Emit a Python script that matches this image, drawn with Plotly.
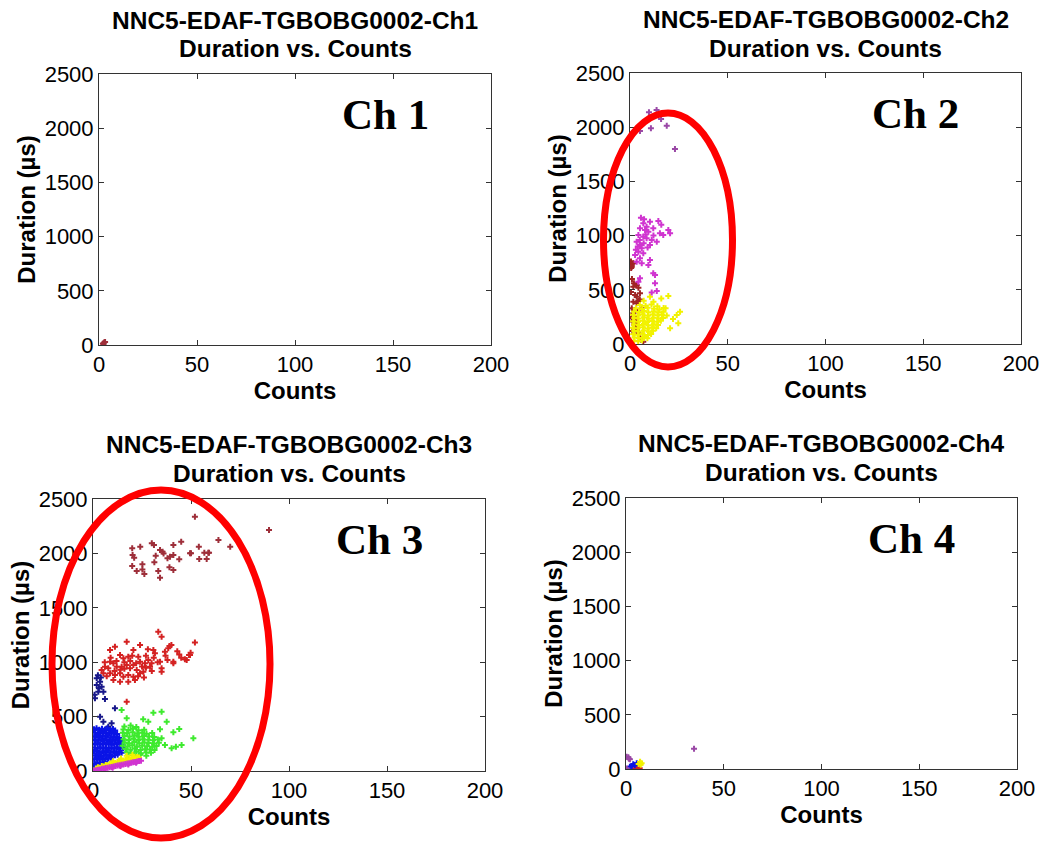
import plotly.graph_objects as go

# ---------------- data ----------------
X_TICKS = [0, 50, 100, 150, 200]
Y_TICKS = [0, 500, 1000, 1500, 2000, 2500]
TITLES = ["NNC5-EDAF-TGBOBG0002-Ch1", "NNC5-EDAF-TGBOBG0002-Ch2",
          "NNC5-EDAF-TGBOBG0002-Ch3", "NNC5-EDAF-TGBOBG0002-Ch4"]
SUBTITLE = "Duration vs. Counts"
CH_LABELS = ["Ch 1", "Ch 2", "Ch 3", "Ch 4"]

# Ch1
CH1_X = [2.0, 2.6, 3.1, 2.3]
CH1_Y = [14, 22, 28, 10]

# Ch2
CH2_MAG_HI_X = [9.7, 13.6, 15.9, 5.1, 10.7, 18.8, 23.0]
CH2_MAG_HI_Y = [2137, 2159, 2076, 1965, 1990, 2014, 1799]
CH2_MAG_X = [5.6, 10.2, 14.5, 6.8, 8.5, 5.1, 7.7, 9.4, 11.9, 19.6, 17.0, 15.3, 20.5,
             4.3, 6.8, 8.5, 11.1, 13.7, 10.2, 3.4, 5.1, 6.0, 4.3, 6.8, 2.6, 5.1,
             3.4, 10.2, 6.0, 9.4, 11.9, 12.8, 12.8, 13.7, 11.1, 5.1, 4.3,
             4.0, 7.0, 8.0, 9.0, 3.0, 5.0, 12.0, 16.0, 7.2]
CH2_MAG_Y = [1165, 1128, 1135, 1113, 1082, 1067, 1052, 1036, 1067, 1052, 1006, 1021, 1021,
             1006, 990, 975, 959, 944, 913, 944, 913, 883, 852, 837, 821, 791,
             759, 775, 744, 729, 652, 636, 560, 489, 474, 606, 575,
             900, 930, 1010, 890, 870, 960, 1000, 1100, 1150]
CH2_MAR_X = [0.5, 0.9, 0.6, 3.4, 4.3, 1.7, 2.6, 3.4, 5.1, 1.7, 3.4, 4.3, 0.9, 2.6,
             1.7, 0.9, 1.7, 2.6, 3.4, 4.3, 5.1, 6.0, 6.8, 1.0, 0.5, 2.0, 1.0,
             3.0, 2.0, 1.2, 4.0, 3.5, 6.0, 5.0, 1.7, 0.9]
CH2_MAR_Y = [760, 730, 700, 544, 520, 529, 452, 436, 468, 390, 375, 397, 329, 314,
             283, 237, 206, 160, 129, 99, 67, 37, 21, 600, 480, 560, 250,
             230, 180, 120, 300, 200, 330, 410, 744, 713]
CH2_YEL_X = [5, 8, 11, 14, 3, 6.2, 9, 12.3, 15, 17.2, 2, 4.6, 7.1, 9.4, 12.2, 14.4, 17.1,
             1.5, 4.1, 6.4, 9.2, 11.6, 14.1, 16.3, 18.8, 2.2, 4.4, 7.2, 9.6, 12.1,
             14.6, 16.9, 1.6, 4.2, 6.6, 8.8, 11.4, 13.9, 15.8, 2.1, 4.6, 7.1, 9.3,
             12.2, 14.3, 1.4, 3.9, 6.6, 9.1, 11.3, 13.4, 2.2, 4.4, 7.1, 9.6, 11.8,
             1.6, 4.1, 6.4, 9.2, 10.8, 2.3, 4.5, 7.2, 8.9, 2.1, 4.2, 6.1,
             19.6, 25.6, 23.9, 24.7, 20.5, 16.0, 22.0, 18.2, 10.2, 7.0, 12.0]
CH2_YEL_Y = [360, 352, 365, 348, 330, 322, 335, 326, 318, 331, 300, 296, 305, 292, 302,
             290, 298, 270, 264, 275, 262, 272, 266, 270, 262, 240, 236, 245, 232,
             242, 236, 240, 210, 206, 215, 202, 212, 206, 214, 180, 176, 185, 172,
             182, 176, 150, 146, 155, 142, 152, 146, 120, 116, 125, 112, 122,
             90, 86, 95, 82, 92, 60, 56, 65, 52, 30, 26, 35,
             443, 298, 268, 191, 145, 420, 230, 330, 436, 400, 390]

# Ch3
CH3_RED_HI_X = [52, 89.8, 20, 24.1, 30, 31.1, 34.2, 35.5, 41, 45, 50, 54, 64, 70, 20.2,
                21, 32, 38, 39.3, 41, 44, 54.2, 56.8, 58, 58.8, 20, 22.3, 25.2, 25.2,
                26.2, 31.3, 33.3, 34.2, 39, 41, 59.2, 36, 49.5]
CH3_RED_HI_Y = [2337, 2215, 2047, 2062, 2093, 2077, 2031, 2016, 2077, 2108, 2001, 2062,
                2123, 2062, 1985, 1960, 1979, 1955, 1970, 1985, 1946, 1949, 2007, 1949,
                2007, 1884, 1838, 1900, 1853, 1810, 1918, 1838, 1777, 1872, 1847, 2007,
                2000, 2001]
CH3_RED_X = [33.3, 35, 52, 17.2, 11.2, 8.7, 24, 20.6, 40, 38.4, 36.7, 30.8, 31.6, 49.5,
             47.8, 46.9, 13.8, 15.5, 18, 23.1, 24, 26.5, 28.2, 29.9, 29.1, 34.2, 35, 41,
             8.7, 10.4, 6.1, 7.8, 4.4, 5.3, 12.1, 14.6, 17.2, 18.9, 20.6, 22.3, 8.7,
             11.2, 13.8, 15.5, 18, 20.6, 24, 25.7, 10.4, 13.8, 18, 21.4, 35, 41, 49,
             49.8, 17.2, 6, 9, 12, 16, 19, 22, 25, 27, 11, 14, 23, 27, 31, 37, 44, 43,
             38, 33, 30, 26, 7, 16, 20, 28, 45, 39]
CH3_RED_Y = [1281, 1235, 1180, 1189, 1143, 1112, 1158, 1112, 1158, 1128, 1097, 1112, 1082,
             1066, 1020, 1026, 1066, 1036, 1051, 1051, 1005, 990, 1020, 990, 959, 1005,
             944, 990, 1005, 990, 959, 944, 929, 898, 959, 959, 975, 944, 975, 929, 898,
             882, 898, 867, 882, 867, 898, 913, 836, 821, 821, 836, 913, 1005, 1066,
             1088, 637, 1000, 1040, 1010, 1000, 1010, 990, 960, 1060, 920, 930, 870,
             950, 1040, 1060, 1070, 1100, 1020, 1000, 920, 860, 870, 940, 1060, 1120,
             1040, 1150]
CH3_NAVY_X = [1.9, 3.6, 1.9, 4.4, 2.7, 5.3, 1.0, 6.1, 11.2, 3.6, 5.3, 7.8, 9.5, 2.5, 4.0,
              0.8, 3.0]
CH3_NAVY_Y = [852, 821, 790, 775, 729, 729, 668, 662, 576, 499, 453, 407, 438, 880, 860,
              700, 760]
CH3_BLUE_X = [0.5, 1.8, 3.2, 4.6, 6.1, 7.4, 8.9, 10.2, 11.3,
              1.1, 2.6, 3.9, 5.3, 6.8, 8.2, 9.6, 11.0, 12.3,
              0.6, 2.0, 3.4, 4.9, 6.3, 7.7, 9.1, 10.6, 12.0, 13.4,
              1.3, 2.7, 4.2, 5.6, 7.0, 8.5, 9.9, 11.3, 12.8, 14.2,
              0.7, 2.2, 3.6, 5.0, 6.5, 7.9, 9.3, 10.8, 12.2, 13.6, 15.1,
              1.0, 2.4, 3.8, 5.3, 6.7, 8.1, 9.6, 11.0, 12.5, 13.9, 15.4,
              0.5, 1.9, 3.3, 4.8, 6.2, 7.6, 9.0, 10.5, 11.9, 13.3, 14.6,
              1.2, 2.6, 4.1, 5.5, 6.9, 8.4, 9.8, 11.2, 12.6,
              0.6, 2.0, 3.5, 4.9, 6.3, 7.7, 9.0,
              0.9, 2.3, 3.6, 5.0, 6.2,
              0.5, 1.6, 2.7, 3.5]
CH3_BLUE_Y = [384, 392, 378, 389, 381, 394, 377, 386, 372,
              352, 346, 358, 349, 355, 343, 351, 347, 340,
              318, 324, 312, 321, 315, 326, 309, 318, 313, 304,
              284, 278, 290, 281, 287, 276, 284, 279, 286, 275,
              248, 255, 243, 252, 246, 257, 241, 250, 245, 253, 240,
              214, 208, 219, 211, 216, 205, 213, 209, 218, 206, 212,
              178, 184, 172, 181, 175, 186, 170, 179, 174, 182, 168,
              142, 147, 138, 145, 140, 148, 136, 144, 150,
              108, 113, 104, 112, 107, 115, 118,
              72, 78, 70, 80, 84,
              40, 46, 50, 58]
CH3_GRN_X = [14.6, 17.2, 25.6, 30.8, 35, 28.2, 37.6, 34.2, 44, 41, 51.2, 45.2, 42.3, 40.1,
             36.7, 35, 16, 19.2, 22.1,
             15.5, 18.1, 20.4, 23.2, 26.1,
             15.2, 17.4, 20.2, 22.6, 25.1, 27.3, 30.2,
             16.1, 18.6, 21.2, 23.4, 26.1, 28.6, 31.2,
             15.6, 18.2, 20.6, 23.1, 25.4, 28.2, 30.6, 33.1,
             16.2, 18.4, 21.1, 23.6, 26.2, 28.4, 31.1, 33.6,
             15.1, 17.6, 20.1, 22.4, 25.1, 27.6, 30.2, 32.4,
             16.6, 19.1, 21.4, 24.2, 26.6, 29.1, 31.4,
             17.2, 19.6, 22.1, 24.4, 27.2, 29.6,
             18.1, 21.2, 24.1, 27.2]
CH3_GRN_Y = [561, 484, 475, 536, 545, 453, 453, 383, 386, 356, 300, 239, 223, 208,
             239, 300, 410, 418, 405,
             382, 376, 388, 374, 380,
             352, 346, 357, 344, 351, 343, 349,
             322, 316, 327, 314, 321, 318, 312,
             292, 286, 297, 284, 291, 287, 282, 289,
             262, 256, 267, 254, 261, 257, 252, 259,
             232, 226, 237, 224, 231, 227, 222, 229,
             202, 196, 207, 194, 201, 197, 192,
             172, 166, 177, 164, 171, 167,
             146, 142, 149, 140]
CH3_YEL_X = [1.5, 2.5, 3.5, 4.5, 5.5, 6.5, 7.5, 8.5, 9.5, 10.5, 11.5, 12.5, 13.5, 14.5,
             15.5, 16.5, 17.5, 18.5, 19.5, 20.5, 21.5, 22.5, 23.5, 11, 15, 19, 7, 13,
             17, 21, 17.2, 20.1, 14.3, 10.2]
CH3_YEL_Y = [22, 35, 30, 45, 42, 55, 52, 65, 62, 76, 72, 86, 82, 95, 92, 104, 100, 114,
             110, 122, 118, 128, 125, 65, 85, 102, 45, 75, 95, 112, 140, 150, 115, 90]
CH3_MAG_X = [0.5, 1.5, 2.5, 3.5, 4.5, 5.5, 6.5, 7.5, 8.5, 9.5, 10.5, 11.5, 12.5, 13.5,
             14.5, 15.5, 16.5, 17.5, 18.5, 19.5, 20.5, 21.5, 22.5, 23.5, 24.5, 6, 10,
             14, 18, 22]
CH3_MAG_Y = [3, 8, 12, 14, 20, 22, 27, 30, 35, 37, 42, 45, 50, 52, 57, 60, 65, 68, 72,
             75, 80, 83, 88, 92, 95, 16, 30, 45, 60, 75]

# Ch4
CH4_MAG_X = [34.8, 1.2, 2.0, 0.4, 0.3, 1.5]
CH4_MAG_Y = [187, 108, 89, 5, 113, 95]
CH4_BLUE_X = [3.7, 5.5, 2.9, 4.5, 2.0]
CH4_BLUE_Y = [43, 53, 28, 35, 20]
CH4_YEL_X = [7.2, 8.0, 6.5, 7.5]
CH4_YEL_Y = [67, 53, 45, 40]
CH4_RED_X = [6.3, 4.6, 5.5, 7.0]
CH4_RED_Y = [12, 6, 10, 8]

# colours
C_DRED = "#9E2F3A"
C_RED = "#D42222"
C_MAROON = "#A02424"
C_MAG = "#D034D0"
C_PURPLE = "#9A48A6"
C_BLUE = "#0A14E6"
C_NAVY = "#18188A"
C_GREEN = "#3EEA2E"
C_YEL = "#F2F200"

# ---------------- figure ----------------
W, H = 1043, 843
FONT = "Liberation Sans"

# plot-area boxes in pixels (left, right, top, bottom)
BOXES = [(99, 491, 74, 345), (630, 1021, 73, 344), (93, 485, 499, 771), (626, 1017, 498, 769)]
TITLE_Y = [(20, 48), (19, 48), (445, 473), (443, 472)]

series = {
    1: [(CH1_X, CH1_Y, C_DRED)],
    2: [(CH2_MAR_X, CH2_MAR_Y, C_MAROON), (CH2_YEL_X, CH2_YEL_Y, C_YEL),
        (CH2_MAG_X, CH2_MAG_Y, C_MAG), (CH2_MAG_HI_X, CH2_MAG_HI_Y, C_PURPLE)],
    3: [(CH3_RED_HI_X, CH3_RED_HI_Y, C_DRED), (CH3_RED_X, CH3_RED_Y, C_RED),
        (CH3_NAVY_X, CH3_NAVY_Y, C_NAVY), (CH3_BLUE_X, CH3_BLUE_Y, C_BLUE),
        (CH3_GRN_X, CH3_GRN_Y, C_GREEN), (CH3_YEL_X, CH3_YEL_Y, C_YEL),
        (CH3_MAG_X, CH3_MAG_Y, C_MAG)],
    4: [(CH4_RED_X, CH4_RED_Y, C_RED), (CH4_BLUE_X, CH4_BLUE_Y, C_BLUE),
        (CH4_YEL_X, CH4_YEL_Y, C_YEL), (CH4_MAG_X, CH4_MAG_Y, C_PURPLE)],
}

fig = go.Figure()
layout = dict(width=W, height=H, margin=dict(l=0, r=0, t=0, b=0, autoexpand=False),
              paper_bgcolor="white", plot_bgcolor="white", showlegend=False,
              annotations=[], shapes=[])

for i in range(1, 5):
    sfx = "" if i == 1 else str(i)
    for xs, ys, col in series[i]:
        fig.add_trace(go.Scatter(x=xs, y=ys, mode="markers", xaxis="x" + sfx, yaxis="y" + sfx,
                                 marker=dict(symbol="cross", size=5, color=col,
                                             line=dict(width=0)),
                                 hoverinfo="skip"))
    l, r, t, b = BOXES[i - 1]
    common = dict(ticks="inside", ticklen=5, tickcolor="#333", mirror="ticks",
                  showline=True, linecolor="#333", linewidth=1, showgrid=False,
                  zeroline=False, automargin=False,
                  tickfont=dict(family=FONT, size=22, color="black"))
    layout["xaxis" + sfx] = dict(domain=[l / W, r / W], anchor="y" + sfx, range=[0, 200],
                                 tickvals=X_TICKS,
                                 title=dict(text="<b>Counts</b>", standoff=4,
                                            font=dict(family=FONT, size=24, color="black")),
                                 **common)
    layout["yaxis" + sfx] = dict(domain=[1 - b / H, 1 - t / H], anchor="x" + sfx,
                                 range=[0, 2500], tickvals=Y_TICKS,
                                 title=dict(text="<b>Duration (µs)</b>", standoff=2,
                                            font=dict(family=FONT, size=24, color="black")),
                                 **common)
    cx = (l + r) / 2 / W
    for txt, py in zip([TITLES[i - 1], SUBTITLE], TITLE_Y[i - 1]):
        layout["annotations"].append(dict(text="<b>%s</b>" % txt, xref="paper", yref="paper",
                                          x=cx, y=1 - py / H, xanchor="center", yanchor="middle",
                                          showarrow=False,
                                          font=dict(family=FONT, size=24.5, color="black")))
    layout["annotations"].append(dict(text="<b>%s</b>" % CH_LABELS[i - 1], xref="x" + sfx,
                                      yref="y" + sfx, x=146, y=2125, xanchor="center",
                                      yanchor="middle", showarrow=False,
                                      font=dict(family="Liberation Serif", size=43,
                                                color="black")))

# red highlight ellipses (pixel boxes of the drawn ovals)
ELLIPSES = [(603.5, 732.5, 113, 367), (52, 270, 490, 838)]
for x0, x1, y0, y1 in ELLIPSES:
    layout["shapes"].append(dict(type="circle", xref="paper", yref="paper",
                                 x0=x0 / W, x1=x1 / W, y0=1 - y1 / H, y1=1 - y0 / H,
                                 line=dict(color="#FF0000", width=7), layer="above"))

fig.update_layout(**layout)
fig.write_html("out.html")
